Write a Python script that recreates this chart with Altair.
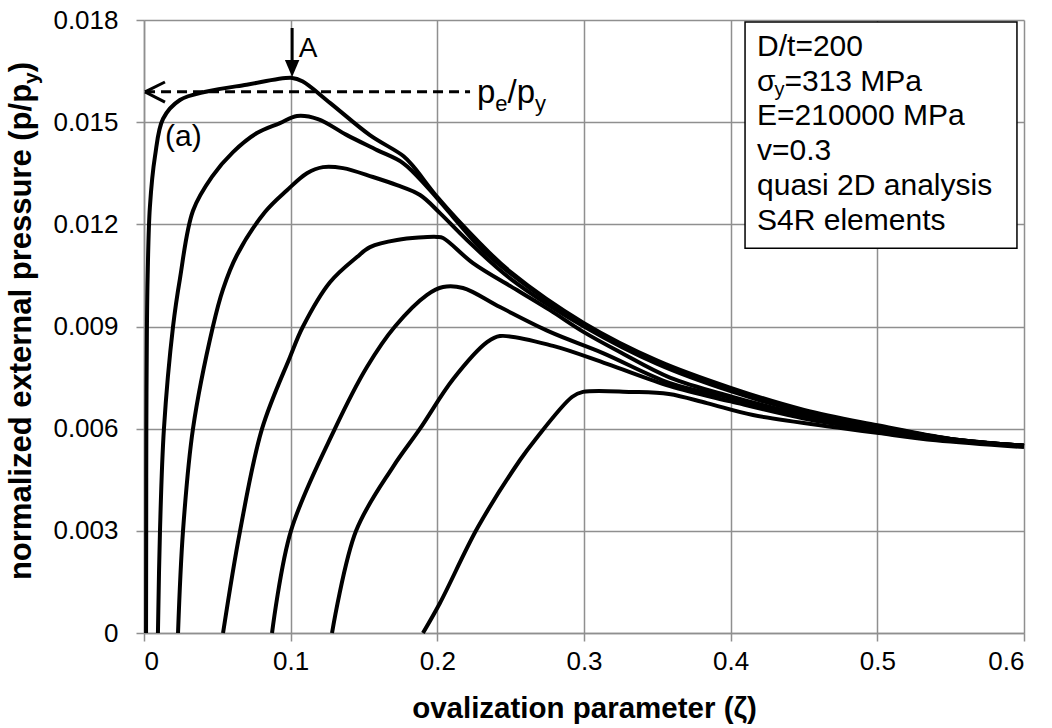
import altair as alt
import pandas as pd

# ---------------- data ----------------
zeta_1 = [0.0014, 0.0015, 0.0016, 0.0020, 0.0025, 0.0040, 0.0075, 0.013, 0.0245, 0.043, 0.070, 0.101,
          0.108, 0.127, 0.154, 0.177, 0.184, 0.200, 0.229, 0.250, 0.300, 0.350, 0.400, 0.450, 0.500, 0.550, 0.600]
p_1 = [0, 0.003, 0.006, 0.009, 0.0105, 0.0125, 0.0140, 0.0151, 0.01565, 0.0159, 0.0161, 0.0163,
       0.0162, 0.01556, 0.01462, 0.0140, 0.01368, 0.0128, 0.01145, 0.0106, 0.0091, 0.0080, 0.0072, 0.00655, 0.0061, 0.0057, 0.0055]

zeta_2 = [0.0095, 0.0109, 0.0136, 0.0198, 0.0245, 0.0334, 0.0464, 0.0607, 0.077, 0.0927, 0.1043, 0.1186, 0.1384,
          0.1589, 0.1766, 0.193, 0.2107, 0.229, 0.250, 0.300, 0.350, 0.400, 0.450, 0.500, 0.550, 0.600]
p_2 = [0, 0.0030, 0.0060, 0.0090, 0.0104, 0.0124, 0.0134, 0.01412, 0.01468, 0.01497, 0.01518, 0.01509, 0.01462,
       0.01418, 0.0138, 0.0131, 0.01222, 0.01133, 0.01055, 0.00905, 0.00795, 0.00715, 0.0065, 0.00607, 0.0057, 0.0055]

zeta_3 = [0.0232, 0.0266, 0.0334, 0.047, 0.0539, 0.0634, 0.0825, 0.0975, 0.1111, 0.122, 0.1357, 0.1561, 0.1725,
          0.1882, 0.2018, 0.2202, 0.250, 0.300, 0.350, 0.400, 0.450, 0.500, 0.550, 0.600]
p_3 = [0, 0.0030, 0.0060, 0.0090, 0.0101, 0.01110, 0.01236, 0.01300, 0.01350, 0.01368, 0.01365, 0.01339, 0.01315,
       0.01286, 0.01233, 0.01154, 0.0104, 0.0090, 0.0079, 0.0071, 0.00648, 0.00605, 0.0057, 0.0055]

zeta_4 = [0.0539, 0.0655, 0.0805, 0.0995, 0.1084, 0.1268, 0.1452, 0.1541, 0.1725, 0.1998, 0.2039, 0.2243, 0.2543,
          0.2768, 0.2993, 0.3245, 0.3586, 0.400, 0.450, 0.500, 0.550, 0.600]
p_4 = [0, 0.0030, 0.0060, 0.0081, 0.0090, 0.0103, 0.01104, 0.01133, 0.01154, 0.01163, 0.0116, 0.01086, 0.01007,
       0.00948, 0.00885, 0.00825, 0.0075, 0.00695, 0.0064, 0.0060, 0.00568, 0.0055]

zeta_5 = [0.0873, 0.1002, 0.1302, 0.152, 0.1711, 0.193, 0.2039, 0.2175, 0.2427, 0.2768, 0.3129, 0.3586,
          0.400, 0.450, 0.500, 0.550, 0.600]
p_5 = [0, 0.0030, 0.0060, 0.00781, 0.0090, 0.00993, 0.01016, 0.01013, 0.00957, 0.00884, 0.00822, 0.00734,
       0.0069, 0.00635, 0.00598, 0.00567, 0.0055]

zeta_6 = [0.1282, 0.1446, 0.1698, 0.1882, 0.2107, 0.2339, 0.2427, 0.2789, 0.3157, 0.3586, 0.400, 0.450, 0.500, 0.550, 0.600]
p_6 = [0, 0.0030, 0.00488, 0.0060, 0.00745, 0.00854, 0.00872, 0.00843, 0.0079, 0.00725, 0.0068, 0.0063, 0.00595, 0.00565, 0.0055]

zeta_7 = [0.1902, 0.2018, 0.2277, 0.2564, 0.2666, 0.2918, 0.2993, 0.332, 0.3579, 0.3838, 0.4152, 0.4752, 0.5011, 0.540, 0.600]
p_7 = [0, 0.00088, 0.00311, 0.00508, 0.00567, 0.00693, 0.00708, 0.00708, 0.00702, 0.00675, 0.0064, 0.00602, 0.00587, 0.00566, 0.00546]

x_ticks = [0, 0.1, 0.2, 0.3, 0.4, 0.5, 0.6]
y_ticks = [0, 0.003, 0.006, 0.009, 0.012, 0.015, 0.018]

box_lines = ["D/t=200", "E=210000 MPa", "v=0.3", "quasi 2D analysis", "S4R elements"]
box_line_p = [0.01721, 0.01518, 0.014153, 0.013126, 0.012098]
sigma_line_p = 0.01618

peak_A = (0.101, 0.0163)
pe_level = 0.01589

# ---------------- helpers ----------------
FONT = "Liberation Sans"
GRID = "#8f8f8f"
W_BOLD = {'n': .611, 'o': .611, 'r': .389, 'm': .889, 'a': .556, 'l': .278, 'i': .278, 'z': .5, 'e': .556,
          'd': .611, ' ': .278, 'x': .556, 't': .333, 's': .556, 'u': .611, 'p': .611, '(': .333, '/': .278,
          ')': .333, 'y': .556}
W_REG = {'p': .556, 'e': .556, '/': .278, 'y': .5, 'σ': .58}


def width(s, table, size):
    return sum(table.get(c, 0.556) for c in s) * size


curves = [("1", zeta_1, p_1), ("2", zeta_2, p_2), ("3", zeta_3, p_3), ("4", zeta_4, p_4),
          ("5", zeta_5, p_5), ("6", zeta_6, p_6), ("7", zeta_7, p_7)]
rows = []
for name, xs, ys in curves:
    for i, (xv, yv) in enumerate(zip(xs, ys)):
        rows.append({"curve": name, "zeta": xv, "p": yv, "i": i})
df = pd.DataFrame(rows)

x_scale = alt.Scale(domain=[0, 0.6], nice=False, zero=False)
y_scale = alt.Scale(domain=[0, 0.018], nice=False, zero=False)

x_axis = alt.Axis(values=x_ticks, format=".1~f", title="ovalization parameter (ζ)",
                  labelFont=FONT, labelFontSize=26, labelColor="black", labelPadding=7,
                  tickColor=GRID, tickSize=8, tickWidth=1.5, domainColor=GRID, domainWidth=1.5,
                  gridColor=GRID, gridWidth=1.5, titleFont=FONT, titleFontSize=29.5, titleFontWeight="bold",
                  titleColor="black", titleY=75, titleBaseline="middle")
y_axis = alt.Axis(values=y_ticks, format=".3~f", title="",
                  labelFont=FONT, labelFontSize=26, labelColor="black", labelPadding=18,
                  tickColor=GRID, tickSize=8, tickWidth=1.5, domainColor=GRID, domainWidth=1.5,
                  gridColor=GRID, gridWidth=1.5)

lines = alt.Chart(df).mark_line(color="black", strokeWidth=4, strokeJoin="round",
                                interpolate="catmull-rom").encode(
    x=alt.X("zeta:Q", scale=x_scale, axis=x_axis),
    y=alt.Y("p:Q", scale=y_scale, axis=y_axis),
    detail="curve:N",
    order="i:Q",
)


def txt(text, xv, yv, size, bold=False, align="left", baseline="alphabetic", dx=0, dy=0):
    d = pd.DataFrame({"zeta": [xv], "p": [yv]})
    return alt.Chart(d).mark_text(text=text, font=FONT, fontSize=size,
                                  fontWeight="bold" if bold else "normal", align=align,
                                  baseline=baseline, dx=dx, dy=dy, color="black").encode(
        x=alt.X("zeta:Q", scale=x_scale), y=alt.Y("p:Q", scale=y_scale))


def ptxt(text, px, py, size, bold=False, align="left", baseline="alphabetic", angle=0):
    d = pd.DataFrame({"k": [0]})
    return alt.Chart(d).mark_text(text=text, font=FONT, fontSize=size,
                                  fontWeight="bold" if bold else "normal", align=align,
                                  baseline=baseline, angle=angle, color="black").encode(
        x=alt.value(px), y=alt.value(py))


def seg(x1, y1, x2, y2, w=3, dash=None):
    d = pd.DataFrame({"zeta": [x1], "p": [y1], "zeta2": [x2], "p2": [y2]})
    kw = dict(color="black", strokeWidth=w)
    if dash:
        kw["strokeDash"] = dash
    return alt.Chart(d).mark_rule(**kw).encode(
        x=alt.X("zeta:Q", scale=x_scale), y=alt.Y("p:Q", scale=y_scale),
        x2="zeta2:Q", y2="p2:Q")


# text box
box_d = pd.DataFrame({"zeta": [0.4098], "p": [0.01794], "zeta2": [0.5952], "p2": [0.0113]})
box = alt.Chart(box_d).mark_rect(fill="white", stroke="black", strokeWidth=1.5).encode(
    x=alt.X("zeta:Q", scale=x_scale), y=alt.Y("p:Q", scale=y_scale), x2="zeta2:Q", y2="p2:Q")

BOX_FS = 30
box_x = 0.418
layers = [lines, box]
for t, pv in zip(box_lines, box_line_p):
    layers.append(txt(t, box_x, pv, BOX_FS, baseline="middle"))
w_sig = width("σ", W_REG, BOX_FS)
layers.append(txt("σ", box_x, sigma_line_p, BOX_FS, baseline="middle"))
layers.append(txt("y", box_x, sigma_line_p, 20, baseline="middle", dx=w_sig, dy=8))
layers.append(txt("=313 MPa", box_x, sigma_line_p, BOX_FS, baseline="middle", dx=w_sig + width("y", W_REG, 20)))

# arrow A
layers.append(seg(peak_A[0], 0.017765, peak_A[0], 0.01668, w=3))
head_d = pd.DataFrame({"zeta": [peak_A[0]], "p": [0.016578]})
layers.append(alt.Chart(head_d).mark_point(shape="M-0.85,-1L0.85,-1L0,1Z", size=289, filled=True,
                                           color="black", opacity=1, strokeWidth=0).encode(
    x=alt.X("zeta:Q", scale=x_scale), y=alt.Y("p:Q", scale=y_scale)))
layers.append(txt("A", 0.1055, 0.01691, 28))

# dashed p_e/p_y line with open arrowhead
layers.append(seg(0.0007, pe_level, 0.2223, pe_level, w=3, dash=[10, 6]))
layers.append(seg(0.0007, pe_level, 0.0143, 0.01618, w=3))
layers.append(seg(0.0007, pe_level, 0.0143, 0.01559, w=3))
PE_FS, PE_SUB = 33, 22
pe_x, pe_y = 0.227, 0.015563
layers.append(txt("p", pe_x, pe_y, PE_FS))
d1 = width("p", W_REG, PE_FS)
layers.append(txt("e", pe_x, pe_y, PE_SUB, dx=d1, dy=8))
d2 = d1 + width("e", W_REG, PE_SUB)
layers.append(txt("/p", pe_x, pe_y, PE_FS, dx=d2))
d3 = d2 + width("/p", W_REG, PE_FS)
layers.append(txt("y", pe_x, pe_y, PE_SUB, dx=d3, dy=8))

# (a) label
layers.append(txt("(a)", 0.0143, 0.0143, 30))

# y axis title with subscript (pixel positions relative to plot area)
YT_FS, YT_SUB = 31, 21
main = "normalized external pressure (p/p"
w_main = width(main, W_BOLD, YT_FS)
w_sub = width("y", W_BOLD, YT_SUB)
w_close = width(")", W_BOLD, YT_FS)
total = w_main + w_sub + w_close
yc = 301
y0 = yc + total / 2
bx = -113
layers.append(ptxt(main, bx, y0, YT_FS, bold=True, angle=270))
layers.append(ptxt("y", bx + 7, y0 - w_main, YT_SUB, bold=True, angle=270))
layers.append(ptxt(")", bx, y0 - w_main - w_sub, YT_FS, bold=True, angle=270))

chart = alt.layer(*layers).properties(
    width=880, height=613,
    padding={"left": 144, "top": 20, "right": 28, "bottom": 95},
    autosize=alt.AutoSizeParams(type="none"),
    background="white",
).configure_view(strokeWidth=0)

chart.save("out.html", embed_options={"renderer": "svg", "actions": False})
